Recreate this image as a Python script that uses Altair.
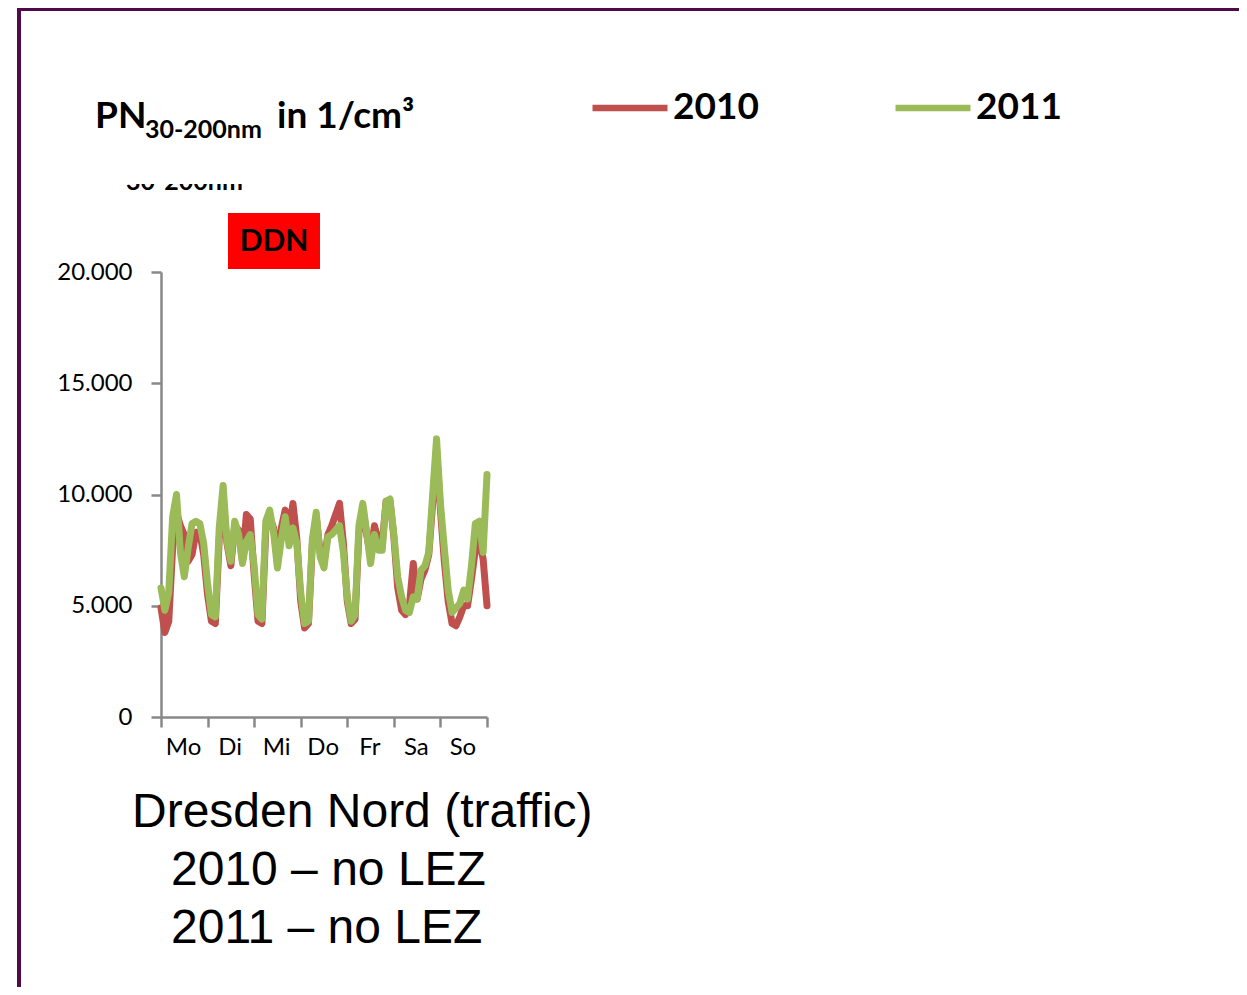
import altair as alt
import pandas as pd

# ---------------- data ----------------
hours = list(range(0, 169, 2))  # hour of the week, Monday 0h .. Sunday 24h

pn_2010 = [
    4900, 3800, 4300, 7600, 9200, 8600, 8200, 7000, 7300, 8300, 8300, 7300,   # Mo
    5500, 4300, 4200, 8000, 9800, 7800, 6800, 8600, 8400, 7000, 9100, 8900,   # Di
    6400, 4300, 4200, 8400, 9000, 8500, 7000, 8500, 9300, 8300, 9600, 8000,   # Mi
    5200, 4000, 4200, 7800, 9000, 7400, 7000, 8200, 8600, 9100, 9600, 7800,   # Do
    5200, 4200, 4400, 8300, 9400, 8200, 7200, 8600, 7900, 7800, 9700, 9700,   # Fr
    8100, 5800, 4800, 4600, 5000, 6900, 5300, 6200, 6600, 7300, 9600, 12000,  # Sa
    9300, 7000, 5200, 4200, 4100, 4500, 5000, 5000, 6200, 7500, 8000, 7100,   # So
    5000,
]
pn_2011 = [
    5800, 4800, 5600, 9000, 10000, 7400, 6300, 7600, 8700, 8800, 8700, 7800,  # Mo
    6000, 4600, 4500, 8500, 10400, 7900, 7000, 8800, 8200, 6900, 7900, 8200,  # Di
    6800, 4600, 4400, 8800, 9300, 8300, 6700, 8000, 9000, 7700, 8500, 7800,   # Mi
    5600, 4200, 4300, 8000, 9200, 7200, 6700, 8100, 8200, 8400, 8600, 7400,   # Do
    5400, 4300, 4600, 8600, 9600, 8300, 6900, 8200, 7500, 7500, 9700, 9800,   # Fr
    8200, 6300, 5400, 4800, 4700, 5400, 5300, 6600, 6800, 7400, 10000, 12500, # Sa
    9600, 7600, 5700, 4700, 4900, 5100, 5700, 5300, 6800, 8700, 8800, 7400,   # So
    10900,
]
years = ["2010", "2011"]
colors = ["#C0504D", "#9BBB59"]
days = ["Mo", "Di", "Mi", "Do", "Fr", "Sa", "So"]
x_ticks = [0, 24, 48, 72, 96, 120, 144, 168]
y_ticks = [0, 5000, 10000, 15000, 20000]

df = pd.DataFrame({
    "hour": hours + hours,
    "pn": pn_2010 + pn_2011,
    "year": [years[0]] * len(hours) + [years[1]] * len(hours),
})

one = pd.DataFrame({"a": [0]})

# plot area: page x 161..487, page y 272..717
W, H = 326, 445
OX, OY = 161, 272  # page position of plot origin


def px(x):
    return x - OX


def py(y):
    return y - OY


PURPLE = "#4E0B47"
GRAY = "#888888"

day_expr = "[" + ",".join("'%s'" % d for d in days) + ",''][round(datum.value/24)]"

lines = alt.Chart(df).mark_line(
    strokeWidth=7, strokeCap="round", strokeJoin="round"
).encode(
    x=alt.X(
        "hour:Q",
        scale=alt.Scale(domain=[0, 168], nice=False, zero=False),
        axis=alt.Axis(
            values=x_ticks, labelExpr=day_expr, labelOffset=22, labelAlign="center",
            labelFlush=False, labelOverlap=False, labelBound=False,
            tickSize=10, tickWidth=2.5, tickColor=GRAY, domainColor=GRAY, domainWidth=2.5,
            labelFont="Lato", labelFontSize=24, labelColor="black", labelPadding=8,
            grid=False, title=None,
        ),
    ),
    y=alt.Y(
        "pn:Q",
        scale=alt.Scale(domain=[0, 20000], nice=False),
        axis=alt.Axis(
            values=y_ticks, labelExpr="replace(format(datum.value, ','), ',', '.')",
            tickSize=10, tickWidth=2.5, tickColor=GRAY, domainColor=GRAY, domainWidth=2.5,
            labelFont="Lato", labelFontSize=24, labelColor="black", labelPadding=19,
            grid=False, title=None, labelOverlap=False,
        ),
    ),
    color=alt.Color(
        "year:N",
        scale=alt.Scale(domain=years, range=colors),
        legend=alt.Legend(
            orient="none", legendX=px(589), legendY=py(67), direction="horizontal",
            title=None, symbolType="stroke", symbolSize=5625, symbolStrokeWidth=6.5,
            labelFont="Lato", labelFontSize=37, labelFontWeight="bold", labelColor="black",
            labelOffset=2, columnPadding=123, padding=0, labelLimit=0,
        ),
    ),
)

# frame of the slide
frame_left = alt.Chart(one).mark_rect(color=PURPLE).encode(
    x=alt.value(px(17)), x2=alt.value(px(21)), y=alt.value(py(8)), y2=alt.value(py(990)))
frame_top = alt.Chart(one).mark_rect(color=PURPLE).encode(
    x=alt.value(px(17)), x2=alt.value(px(1240)), y=alt.value(py(8)), y2=alt.value(py(11)))


def text(t, x, y, size, font="Lato", weight="bold", align="left", baseline="alphabetic", color="black"):
    return alt.Chart(one).mark_text(
        text=t, font=font, fontSize=size, fontWeight=weight, align=align,
        baseline=baseline, color=color,
    ).encode(x=alt.value(px(x)), y=alt.value(py(y)))


title_pn = text("PN", 95, 128, 37)
title_sub = text("30-200nm", 145, 138, 25)
title_unit = text("in 1/cm³", 277, 128, 37)

# cut-off remnant of a subscript line
remnant = text("30-200nm", 126, 190, 25)
remnant_mask = alt.Chart(one).mark_rect(color="white").encode(
    x=alt.value(px(110)), x2=alt.value(px(270)), y=alt.value(py(150)), y2=alt.value(py(184)))

ddn_box = alt.Chart(one).mark_rect(color="#FF0000").encode(
    x=alt.value(px(228)), x2=alt.value(px(320)), y=alt.value(py(213)), y2=alt.value(py(269)))
ddn_text = text("DDN", 274, 242, 30, align="center", baseline="middle")

cap1 = text("Dresden Nord (traffic)", 132, 827, 48, font="Liberation Sans", weight="normal")
cap2 = text("2010 – no LEZ", 171, 885, 48, font="Liberation Sans", weight="normal")
cap3 = text("2011 – no LEZ", 171, 943, 48, font="Liberation Sans", weight="normal")

chart = alt.layer(
    frame_left, frame_top, title_pn, title_sub, title_unit, remnant, remnant_mask,
    ddn_box, ddn_text, lines, cap1, cap2, cap3,
).properties(
    width=W, height=H,
    autosize=alt.AutoSizeParams(type="none"),
    padding={"left": OX - 8, "top": OY - 8, "right": 1231 - (OX - 8) - W, "bottom": 979 - (OY - 8) - H},
    background="white",
).configure_view(stroke=None)

chart.save("out.html", embed_options={"renderer": "svg", "actions": False})
